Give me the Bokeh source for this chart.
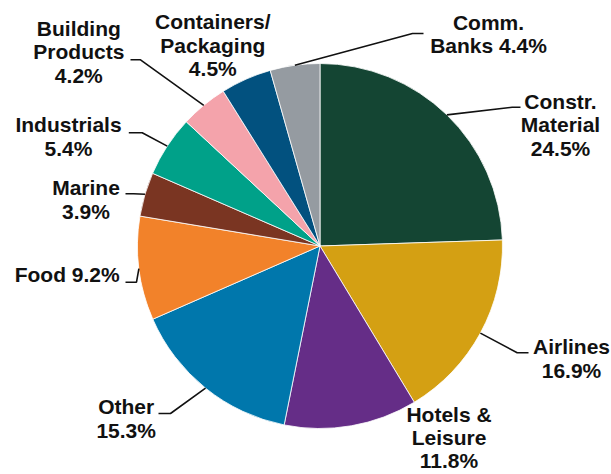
import math
from bokeh.plotting import figure
from bokeh.models import Range1d, ColumnDataSource
from bokeh.core.properties import value
from bokeh.embed import file_html
from bokeh.resources import INLINE

# ---- data (clockwise from 12 o'clock) ----
categories = ["Constr.\nMaterial", "Airlines", "Hotels &\nLeisure", "Other", "Food",
              "Marine", "Industrials", "Building\nProducts", "Containers/\nPackaging", "Comm.\nBanks"]
shares = [24.5, 16.9, 11.8, 15.3, 9.2, 3.9, 5.4, 4.2, 4.5, 4.4]
colors = ["#144533", "#D4A013", "#652D87", "#0077AC", "#F2822A",
          "#7A3522", "#00A189", "#F4A3AB", "#02517F", "#959BA1"]
pct_on_new_line = [True, True, True, True, False, True, True, True, True, False]

# ---- layout (pixel coordinates, y downward) ----
W, H = 611, 474
CX, CY, R = 319.5, 245.5, 182.5
CAP_MID = 7.5   # distance from baseline to middle of capitals
label_anchor = [(560, 108.0), (571, 353.3), (448.5, 421.5), (125.7, 413.3), (66.7, 281.7),
                (85.5, 194.3), (68.0, 131.7), (78.3, 35.0), (212.3, 28.3), (488, 29.0)]
label_gap = [23.7, 23.7, 23.0, 23.7, 23.7, 23.7, 23.7, 23.7, 23.7, 23.7]
leader_pts = [[(511.7, 106.7), (520, 106.7)],
              [(516.7, 352.3), (528, 352.3)],
              None,
              [(170, 413.0), (158, 413.0)],
              [(136, 281.7), (125, 281.7)],
              [(133, 193.3), (125, 193.3)],
              [(141.7, 132.3), (128.3, 132.3)],
              [(140, 59.3), (130, 59.3)],
              None,
              [(412, 33.0), (423, 33.0)]]


def Y(py):
    return H - py


total = sum(shares)
starts, ends, mids = [], [], []
cum = 0.0
for s in shares:
    a0 = math.pi / 2 - 2 * math.pi * cum / total
    cum += s
    a1 = math.pi / 2 - 2 * math.pi * cum / total
    starts.append(a0)
    ends.append(a1)
    mids.append((a0 + a1) / 2)

p = figure(width=W, height=H, x_range=Range1d(0, W), y_range=Range1d(0, H),
           output_backend="svg", toolbar_location=None, min_border=0,
           x_axis_location=None, y_axis_location=None)
p.grid.visible = False
p.outline_line_color = None
p.background_fill_color = "white"
p.border_fill_color = "white"

src = ColumnDataSource(dict(start=starts, end=ends, color=colors))
p.wedge(x=CX, y=Y(CY), radius=R, start_angle="start", end_angle="end",
        direction="clock", fill_color="color", line_color="white", line_width=0.8,
        source=src)

# leader lines
for i, pts in enumerate(leader_pts):
    if pts is None:
        continue
    sx = CX + R * math.cos(mids[i])
    sy = Y(CY) + R * math.sin(mids[i])
    xs = [sx] + [q[0] for q in pts]
    ys = [sy] + [Y(q[1]) for q in pts]
    p.line(xs, ys, line_color="#111111", line_width=1.6)

# labels
tx, ty, tt = [], [], []
for i, name in enumerate(categories):
    pct = f"{shares[i]:.1f}%"
    full = name + ("\n" if pct_on_new_line[i] else " ") + pct
    ax, ay = label_anchor[i]
    for k, line in enumerate(full.split("\n")):
        tx.append(ax)
        ty.append(Y(ay + k * label_gap[i] - CAP_MID))
        tt.append(line)

p.text(x=tx, y=ty, text=tt, text_align="center", text_baseline="middle",
       text_font=value("Liberation Sans"), text_font_style="bold",
       text_font_size="21px", text_color="#111111")

open("out.html", "w").write(file_html(p, INLINE))
